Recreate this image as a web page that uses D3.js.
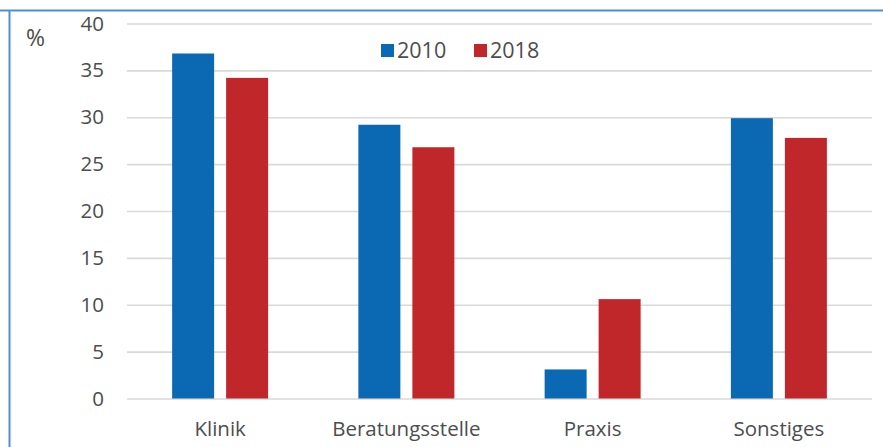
<!DOCTYPE html>
<html>
<head>
<meta charset="utf-8">
<script src="https://cdn.jsdelivr.net/npm/d3@7"></script>
<style>
  html, body { margin: 0; padding: 0; background: #fff; }
  svg { display: block; }
  text { font-family: "Open Sans", "Noto Sans", sans-serif; fill: #4d4d4d; }
</style>
</head>
<body>
<svg id="chart" width="883" height="447"></svg>
<script>
const categories = ["Klinik", "Beratungsstelle", "Praxis", "Sonstiges"];
const seriesNames = ["2010", "2018"];
const values2010 = [36.8, 29.2, 3.1, 29.9];
const values2018 = [34.2, 26.8, 10.6, 27.8];
const yTicks = [0, 5, 10, 15, 20, 25, 30, 35, 40];
const colors = ["#0b69b3", "#c0272b"];

const svg = d3.select("#chart");
const W = 883, H = 447;
const margin = { left: 127, right: 11, top: 23.5, bottom: 48.5 };
const x0 = d3.scaleBand().domain(categories).range([margin.left, W - margin.right]).paddingInner(0).paddingOuter(0);
const x1 = d3.scaleBand().domain(seriesNames).range([0, 96]).paddingInner(12 / 54).paddingOuter(0);
const y = d3.scaleLinear().domain([0, 40]).range([H - margin.bottom, margin.top]);

// frame (top and left edges visible)
svg.append("line").attr("x1", 0).attr("x2", W).attr("y1", 10.5).attr("y2", 10.5)
  .attr("stroke", "#4e8fcf").attr("stroke-width", 2);
svg.append("line").attr("x1", 9.5).attr("x2", 9.5).attr("y1", 10).attr("y2", H)
  .attr("stroke", "#4e8fcf").attr("stroke-width", 2);

// gridlines
const yAxis = d3.axisLeft(y).tickValues(yTicks).tickSize(-(W - margin.left - margin.right)).tickPadding(23);
const gy = svg.append("g").attr("transform", `translate(${margin.left},0)`).call(yAxis);
gy.select(".domain").remove();
gy.selectAll(".tick line").attr("stroke", "#d9d9d9").attr("stroke-width", 1.6);
gy.selectAll(".tick text").attr("font-size", 20.5).style("font-family", '"Open Sans", sans-serif').attr("fill", "#4d4d4d");

// bars
const data = categories.map((c, i) => ({ cat: c, vals: [values2010[i], values2018[i]] }));
const groups = svg.append("g").selectAll("g").data(data).join("g")
  .attr("transform", d => `translate(${x0(d.cat) + (x0.bandwidth() - 96) / 2},0)`);
groups.selectAll("rect").data(d => d.vals.map((v, j) => ({ s: seriesNames[j], v, j })))
  .join("rect")
  .attr("x", d => x1(d.s))
  .attr("width", x1.bandwidth())
  .attr("y", d => y(d.v))
  .attr("height", d => y(0) - y(d.v))
  .attr("fill", d => colors[d.j]);

// x axis labels
const xAxis = d3.axisBottom(x0).tickSize(0).tickPadding(23);
const gx = svg.append("g").attr("transform", `translate(0,${y(0)})`).call(xAxis);
gx.select(".domain").remove();
gx.selectAll(".tick text").attr("font-size", 20.5).style("font-family", '"Open Sans", sans-serif').attr("fill", "#4d4d4d");

// % label
svg.append("text").attr("x", 26).attr("y", 46).attr("font-size", 23).text("%");

// legend
const legend = svg.append("g").attr("transform", "translate(381,44)");
const legX = [0, 93];
seriesNames.forEach((s, i) => {
  const g = legend.append("g").attr("transform", `translate(${legX[i]},0)`);
  g.append("rect").attr("width", 13).attr("height", 13).attr("fill", colors[i]);
  g.append("text").attr("x", 16).attr("y", 14).attr("font-size", 21.5).text(s);
});
</script>
</body>
</html>
